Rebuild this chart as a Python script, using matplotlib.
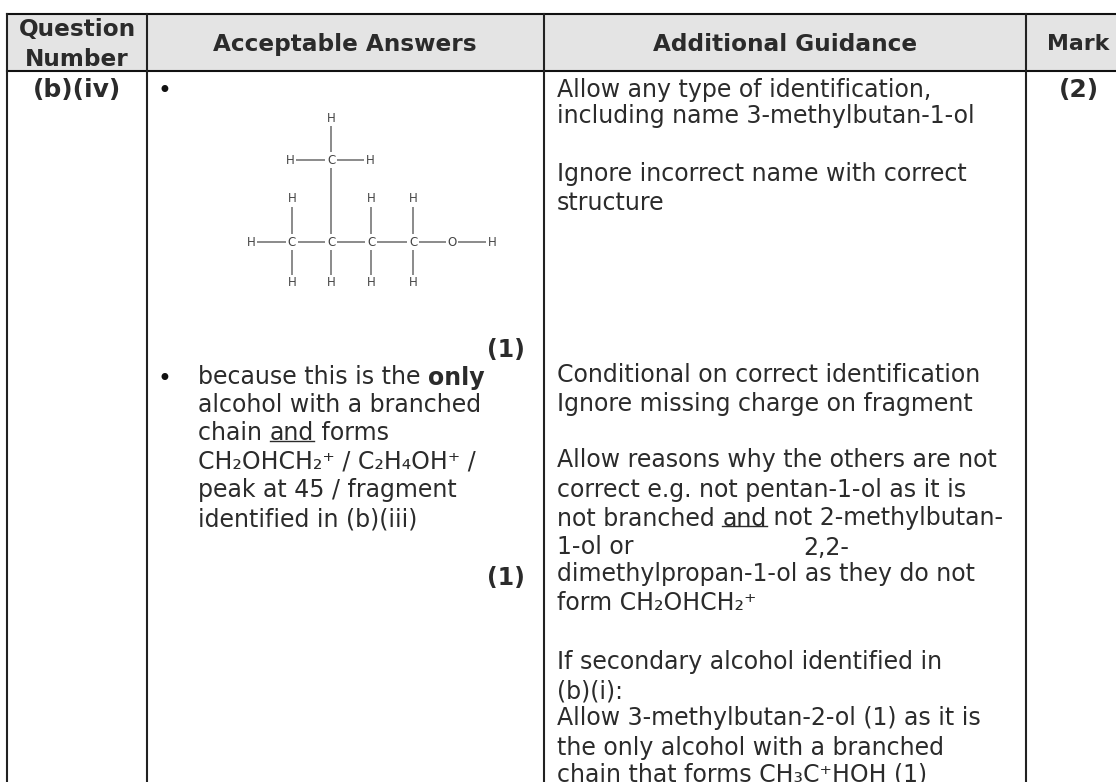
import matplotlib
matplotlib.use("Agg")
import matplotlib.pyplot as plt
from matplotlib.patches import Rectangle

W, H = 1116, 782
FONT = "DejaVu Sans"
TXT = "#2b2b2b"
BODY = 17.0
HEAD = 16.7

headers = ["Acceptable Answers", "Additional Guidance", "Mark"]
header_first = ["Question", "Number"]
question = "(b)(iv)"
mark = "(2)"
sub_mark = "(1)"

guidance_lines = [
    "Allow any type of identification,",
    "including name 3-methylbutan-1-ol",
    "Ignore incorrect name with correct",
    "structure",
    "Conditional on correct identification",
    "Ignore missing charge on fragment",
    "Allow reasons why the others are not",
    "correct e.g. not pentan-1-ol as it is",
    "not branched and not 2-methylbutan-",
    "1-ol or",
    "dimethylpropan-1-ol as they do not",
    "form CH₂OHCH₂⁺",
    "If secondary alcohol identified in",
    "(b)(i):",
    "Allow 3-methylbutan-2-ol (1) as it is",
    "the only alcohol with a branched",
    "chain that forms CH₃C⁺HOH (1)",
]
guidance_y = [87, 114, 172, 201, 372, 401, 458, 487, 516, 545, 572, 601, 659, 689, 716, 745, 772]

answer_lines = [
    "alcohol with a branched",
    "CH₂OHCH₂⁺ / C₂H₄OH⁺ /",
    "peak at 45 / fragment",
    "identified in (b)(iii)",
]
answer_y = [402, 459, 488, 517]

# structural formula: atoms and bonds of 3-methylbutan-1-ol
atoms = ["H", "H", "C", "H", "H", "H", "H",
         "H", "C", "C", "C", "C", "O", "H", "H", "H", "H", "H"]
atom_x = [331, 290, 331, 370, 292, 371, 413,
          251, 292, 331, 371, 413, 452, 492, 292, 331, 371, 413]
atom_y = [118, 160, 160, 160, 199, 199, 199,
          242, 242, 242, 242, 242, 242, 242, 283, 283, 283, 283]
bonds = [(0, 2), (1, 2), (2, 3), (2, 9), (4, 8), (5, 10), (6, 11),
         (7, 8), (8, 9), (9, 10), (10, 11), (11, 12), (12, 13),
         (8, 14), (9, 15), (10, 16), (11, 17)]

col_x = [7, 147, 544, 1026]
top, head_bottom = 14, 71

fig = plt.figure(figsize=(W / 100, H / 100), dpi=100)
ax = fig.add_axes([0, 0, 1, 1])
ax.set_xlim(0, W)
ax.set_ylim(H, 0)
ax.axis("off")

ax.add_patch(Rectangle((col_x[0], top), W - col_x[0], head_bottom - top, fc="#e4e4e4", ec="none", zorder=0))
ax.plot([col_x[0], W], [top, top], color="#111", lw=1.5)
ax.plot([col_x[0], W], [head_bottom, head_bottom], color="#111", lw=1.5)
for x in col_x:
    ax.plot([x, x], [top, H], color="#222", lw=1.5)


def put(x, y, s, weight="normal", ha="left", size=BODY, color=TXT):
    return ax.text(x, y, s, family=FONT, fontsize=size, fontweight=weight, ha=ha,
                   va="center_baseline", color=color)


def run(x, y, parts):
    """Lay out consecutive pieces of one line; parts are (text, weight, underline)."""
    r = fig.canvas.get_renderer()
    for s, weight, under in parts:
        t = put(x, y, s, weight=weight)
        w = t.get_window_extent(r).width
        if under:
            ax.plot([x, x + w], [y + 10, y + 10], color=TXT, lw=1)
        x = x + w


# header
put(77, 27, header_first[0], weight="bold", ha="center", size=HEAD)
put(77, 57, header_first[1], weight="bold", ha="center", size=HEAD)
put(345, 42, headers[0], weight="bold", ha="center", size=HEAD)
put(785, 42, headers[1], weight="bold", ha="center", size=HEAD)
put(1078, 42, headers[2], weight="bold", ha="center", size=15.8)

put(77, 87, question, weight="bold", ha="center", size=18)
put(1079, 87, mark, weight="bold", ha="center", size=18)
put(525, 347, sub_mark, weight="bold", ha="right", size=17)
put(525, 576, sub_mark, weight="bold", ha="right", size=17)

# bullets
put(164, 88, "•", ha="center", size=17, color="#111")
put(164, 377, "•", ha="center", size=17, color="#111")

# answers
run(198, 375, [("because this is the ", "normal", False), ("only", "bold", False)])
run(198, 431, [("chain ", "normal", False), ("and", "normal", True), (" forms", "normal", False)])
for s, y in zip(answer_lines, answer_y):
    put(198, y, s)

# guidance
GX = 557
for s, y in zip(guidance_lines, guidance_y):
    if s.startswith("not branched"):
        run(GX, y, [("not branched ", "normal", False), ("and", "normal", True),
                    (" not 2-methylbutan-", "normal", False)])
    else:
        put(GX, y, s)
put(803, 545, "2,2-")

# molecule
for a, b in bonds:
    ax.plot([atom_x[a], atom_x[b]], [atom_y[a], atom_y[b]], color="#777", lw=1.2, zorder=2)
for s, x, y in zip(atoms, atom_x, atom_y):
    ax.text(x, y, s, fontsize=8.5, family=FONT, ha="center", va="center", color="#444", zorder=3,
            bbox=dict(fc="white", ec="none", pad=1.0))

fig.savefig("out.png", dpi=100)
